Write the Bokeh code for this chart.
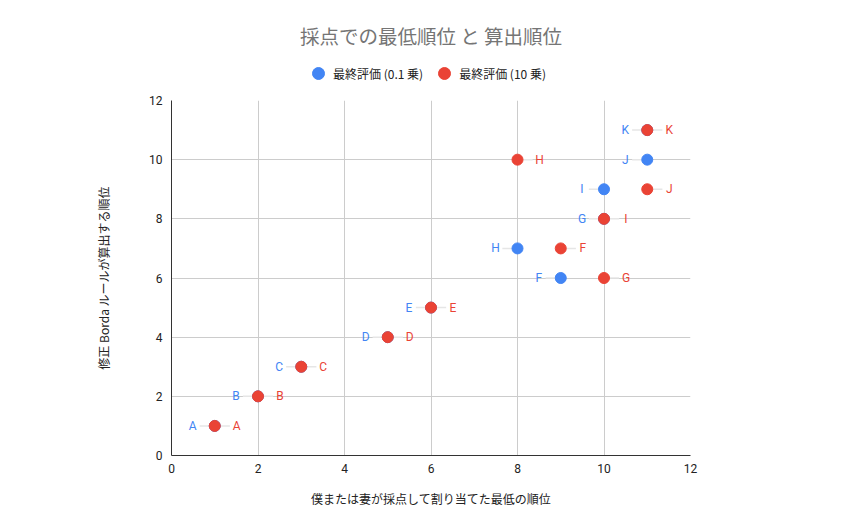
from bokeh.plotting import figure
from bokeh.layouts import column
from bokeh.models import ColumnDataSource, Range1d, FixedTicker, Legend, LegendItem
from bokeh.core.properties import value
from bokeh.embed import file_html
from bokeh.resources import INLINE

names = ["A", "B", "C", "D", "E", "F", "G", "H", "I", "J", "K"]
blue_x = [1, 2, 3, 5, 6, 9, 10, 8, 10, 11, 11]
blue_y = [1, 2, 3, 4, 5, 6, 8, 7, 9, 10, 11]
red_x = [1, 2, 3, 5, 6, 9, 10, 8, 10, 11, 11]
red_y = [1, 2, 3, 4, 5, 7, 6, 10, 8, 9, 11]
ticks = [0, 2, 4, 6, 8, 10, 12]
series_names = ["最終評価 (0.1 乗)", "最終評価 (10 乗)"]
title_text = "採点での最低順位 と 算出順位"

BLUE = "#4285F4"
RED = "#EA4335"
FONT = "Roboto, 'Noto Sans CJK JP'"
JP = "'Noto Sans CJK JP'"

bsrc = ColumnDataSource(dict(x=blue_x, y=blue_y, t=names,
                             lx=[v - 0.35 for v in blue_x]))
rsrc = ColumnDataSource(dict(x=red_x, y=red_y, t=names,
                             lx=[v + 0.35 for v in red_x]))

# ---- header: title + legend (its ranges show none of the points) ----
h = figure(width=859, height=90, output_backend="svg", toolbar_location=None,
           x_axis_type=None, y_axis_type=None, x_range=Range1d(-3, -2), y_range=Range1d(-3, -2),
           min_border_left=0, min_border_right=0, min_border_top=52, min_border_bottom=0)
h.grid.visible = False
h.outline_line_color = None
h.title.text = title_text
h.title.text_font = JP
h.title.text_font_size = "19.5px"
h.title.text_font_style = "normal"
h.title.text_color = "#757575"
h.title.align = "center"
h.title.standoff = 6

lb = h.scatter("x", "y", source=bsrc, color=BLUE)
lr = h.scatter("x", "y", source=rsrc, color=RED)
legend = Legend(items=[LegendItem(label=series_names[0], renderers=[lb]),
                       LegendItem(label=series_names[1], renderers=[lr])],
                orientation="horizontal", location=(132, 2),
                label_text_font=JP, label_text_font_size="12px", label_text_color="#222222",
                border_line_color=None, background_fill_alpha=0,
                glyph_width=30, glyph_height=30, label_standoff=0, spacing=6,
                padding=0, margin=0)
h.add_layout(legend)

# ---- main scatter plot ----
p = figure(width=859, height=441, output_backend="svg", toolbar_location=None,
           x_range=Range1d(0, 12), y_range=Range1d(0, 12),
           min_border_left=171, min_border_right=169, min_border_top=10, min_border_bottom=76)
p.outline_line_color = None

for ax in (p.xaxis[0], p.yaxis[0]):
    ax.ticker = FixedTicker(ticks=ticks)
    ax.major_tick_line_color = None
    ax.minor_tick_line_color = None
    ax.axis_line_color = "#333333"
    ax.major_label_text_font = FONT
    ax.major_label_text_font_size = "12px"
    ax.major_label_text_color = "#222222"
    ax.axis_label_text_font = JP
    ax.axis_label_text_font_size = "12px"
    ax.axis_label_text_font_style = "normal"
    ax.axis_label_text_color = "#222222"
p.xaxis.axis_label = "僕または妻が採点して割り当てた最低の順位"
p.yaxis.axis_label = "修正 Borda ルールが算出する順位"
p.xaxis.major_label_standoff = 2
p.yaxis.major_label_standoff = 3
p.xaxis.axis_label_standoff = 14
p.yaxis.axis_label_standoff = 34
p.xgrid.ticker = FixedTicker(ticks=ticks)
p.ygrid.ticker = FixedTicker(ticks=ticks)
p.grid.grid_line_color = "#cccccc"

p.segment(x0="x", y0="y", x1="lx", y1="y", source=bsrc, line_color="#e6e6e6", line_width=1.5)
p.segment(x0="x", y0="y", x1="lx", y1="y", source=rsrc, line_color="#e6e6e6", line_width=1.5)

p.scatter("x", "y", source=bsrc, size=11, color=BLUE)
p.scatter("x", "y", source=rsrc, size=11, color=RED)

p.text("x", "y", text="t", source=bsrc, x_offset=-22, text_align="center", text_baseline="middle",
       text_font=value("Roboto"), text_font_size="12px", text_color=BLUE)
p.text("x", "y", text="t", source=rsrc, x_offset=22, text_align="center", text_baseline="middle",
       text_font=value("Roboto"), text_font_size="12px", text_color=RED)

layout = column(h, p, spacing=0)
open("out.html", "w").write(file_html(layout, INLINE))
